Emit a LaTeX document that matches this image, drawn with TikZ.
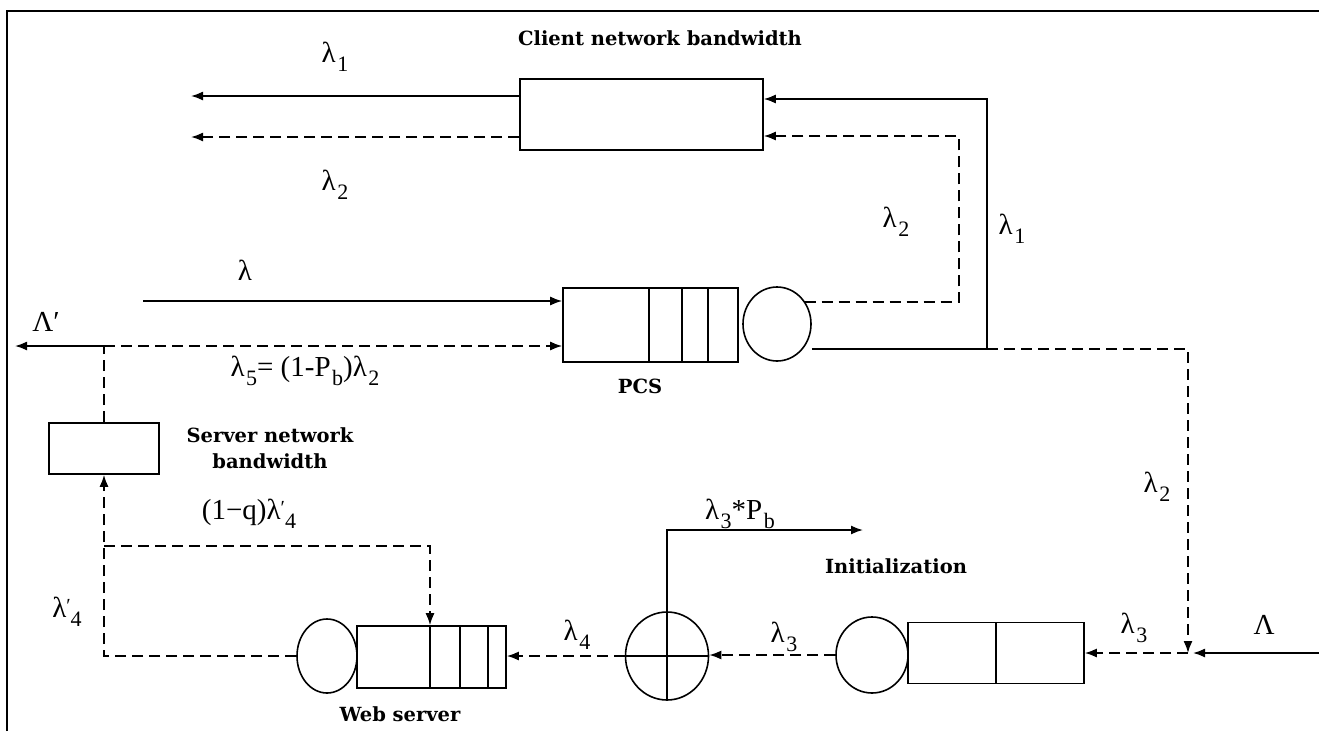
\documentclass[tikz,border=0pt]{standalone}
\usepackage{fontspec}
\setmainfont{Liberation Serif}
\newfontfamily\bfl{DejaVu Serif}
\usetikzlibrary{arrows.meta,shapes.geometric}
\newcommand{\lsub}[1]{\kern1.5pt\raisebox{-0.3em}{\fontsize{22}{22}\selectfont #1}}
\newcommand{\lsubp}[1]{\raisebox{0.2em}{\fontsize{20}{20}\selectfont ′}\raisebox{-0.3em}{\fontsize{22}{22}\selectfont #1}}
\begin{document}
\begin{tikzpicture}[x=1pt,y=-1pt, line width=1.6pt,
  arr/.style={-{Latex[length=12pt,width=9pt]}},
  dsh/.style={dash pattern=on 11pt off 6pt},
  box/.style={draw, rectangle, inner sep=0pt},
  srv/.style={draw, ellipse, inner sep=0pt},
  lab/.style={font=\fontsize{29}{30}\selectfont, inner sep=0pt},
  bold/.style={font=\bfl\bfseries\fontsize{19.5}{26}\selectfont, inner sep=0pt, align=center}]
\useasboundingbox (0,0) rectangle (1319,731);
\fill[white] (0,0) rectangle (1319,731);
\draw[line width=2pt] (7,731) -- (7,11) -- (1319,11);

% nodes
\node[box, minimum width=243pt, minimum height=71pt] (cnb) at (641.5,114.5) {};
\node[box, minimum width=175pt, minimum height=74pt] (pcs) at (650.5,325) {};
\node[srv, minimum width=68pt, minimum height=74pt] (pcsc) at (777,324) {};
\node[box, minimum width=110pt, minimum height=51pt] (snb) at (104,448.5) {};
\node[box, minimum width=149pt, minimum height=62pt] (ws) at (431.5,657) {};
\node[srv, minimum width=60pt, minimum height=74pt] (wsc) at (327,656) {};
\node[srv, minimum width=83pt, minimum height=88pt] (mc) at (667,656) {};
\node[srv, minimum width=72pt, minimum height=76pt] (ic) at (872,655) {};
\node[box, minimum width=176pt, minimum height=61pt] (ib) at (996,653) {};

% dividers
\foreach \x in {649,682,708} \draw (\x,288) -- (\x,362);
\foreach \x in {430,460,488} \draw (\x,626) -- (\x,688);
\draw (996,622.5) -- (996,683.5);

% coordinates
\coordinate (l1end) at (191,96);
\coordinate (l2end) at (191,137);
\coordinate (j1) at (987,349);
\coordinate (c1) at (987,99);
\coordinate (d1) at (959,302);
\coordinate (d2) at (959,136);
\coordinate (j2) at (1188,349);
\coordinate (j3) at (1188,653);
\coordinate (lamin) at (1319,653);
\coordinate (k1) at (667,530);
\coordinate (k2) at (863,530);
\coordinate (f1) at (104,546);
\coordinate (f2) at (430,546);
\coordinate (jn) at (104,346);
\coordinate (lout) at (15,346);
\coordinate (lin) at (143,301);

% connectors
\draw[arr] (cnb.west |- l1end) -- (l1end);
\draw[arr,dsh] (cnb.west |- l2end) -- (l2end);
\draw[arr] (j1 -| pcsc.east) -- (j1) -- (c1) -- (cnb.east |- c1);
\draw[arr,dsh] (d1 -| pcsc.40) -- (d1) -- (d2) -- (cnb.east |- d2);
\draw[arr,dsh] (j1) -- (j2) -- (j3);
\draw[arr,shorten >=5pt] (lamin) -- (j3);
\draw[arr,dsh] (j3) -- (ib.east);
\draw[arr,dsh] (ic.west) -- (ic.west -| mc.east);
\draw[arr,dsh] (mc.west) -- (mc.west -| ws.east);
\draw (mc.west) -- (mc.east);
\draw[arr] (mc.south) -- (k1) -- (k2);
\draw[arr,dsh] (wsc.west) -- (wsc.west -| snb.south) -- (snb.south);
\draw[arr,dsh] (f1) -- (f2) -- (f2 |- ws.north);
\draw[dsh] (snb.north) -- (jn);
\draw[arr] (jn) -- (lout);
\draw[arr,dsh] (jn) -- (jn -| pcs.west);
\draw[arr] (lin) -- (lin -| pcs.west);

% labels
\node[bold] (tcnb) at (660,38) {Client network bandwidth};
\node[bold] (tpcs) at (640,386) {PCS};
\node[bold] (tsnb) at (270,448) {Server network\\bandwidth};
\node[bold] (tws) at (400,714) {Web server};
\node[bold] (tini) at (896,566) {Initialization};
\node[lab] (ta) at (335,57) {λ\lsub{1}};
\node[lab] (tb) at (335,185) {λ\lsub{2}};
\node[lab] (tc) at (896,222) {λ\lsub{2}};
\node[lab] (td) at (1012,229) {λ\lsub{1}};
\node[lab] (te) at (245,270) {λ};
\node[lab] (tf) at (46,322) {Λ′};
\node[lab] (tg) at (305,371) {λ\lsub{5}= (1-P\lsub{b})λ\lsub{2}};
\node[lab] (th) at (1157,487) {λ\lsub{2}};
\node[lab] (ti) at (249,514) {(1−q)λ\lsubp{4}};
\node[lab] (tj) at (740,514) {λ\lsub{3}*P\lsub{b}};
\node[lab] (tk) at (67,612) {λ\lsubp{4}};
\node[lab] (tl) at (577,635) {λ\lsub{4}};
\node[lab] (tm) at (784,637) {λ\lsub{3}};
\node[lab] (tn) at (1134,628) {λ\lsub{3}};
\node[lab] (to) at (1264,625) {Λ};
\end{tikzpicture}
\end{document}
